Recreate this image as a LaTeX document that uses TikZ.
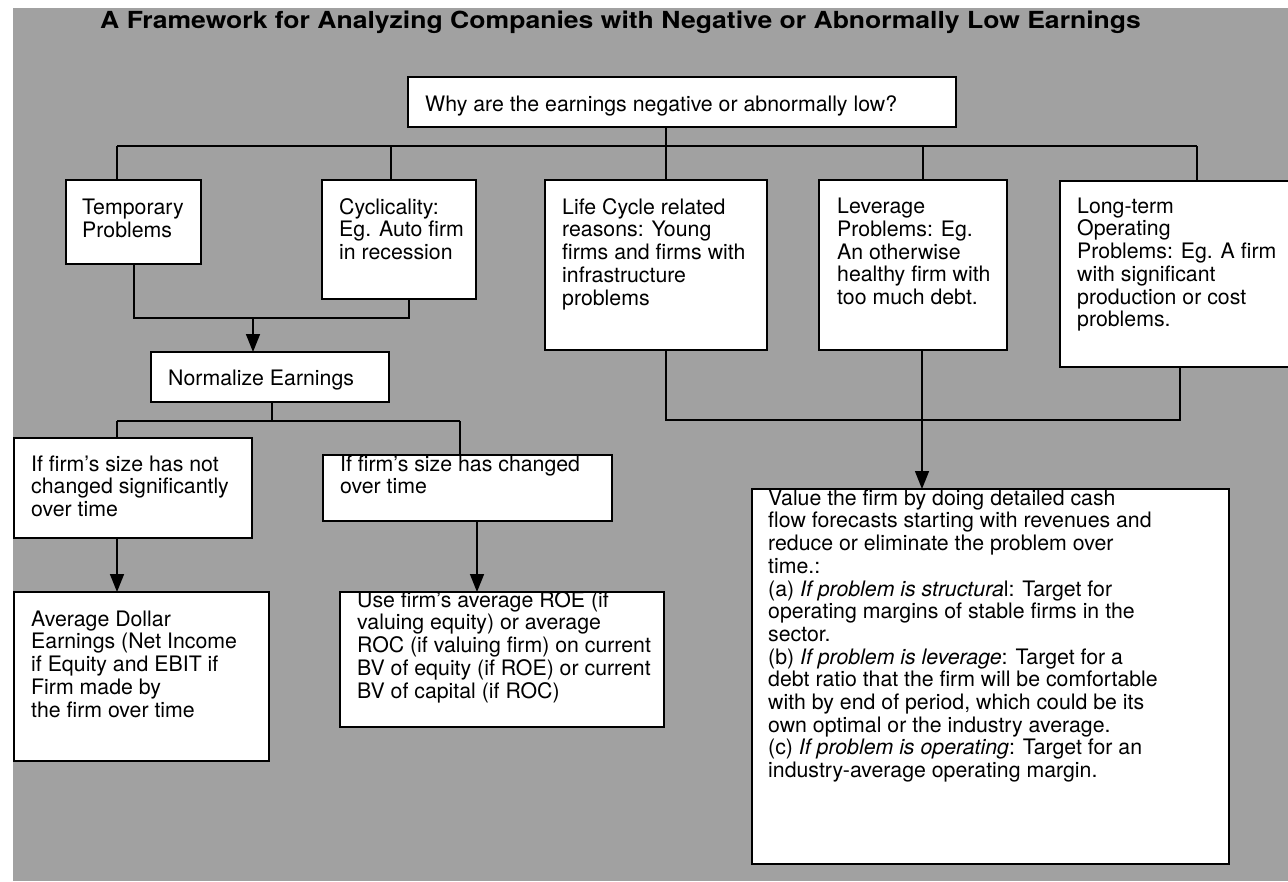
\documentclass[tikz,border=0pt]{standalone}
\usepackage{fontspec}
\usepackage{graphicx}
\setmainfont{TeX Gyre Heros}
\usetikzlibrary{arrows.meta}
\definecolor{bg}{RGB}{161,161,161}
\newcommand\ts{\rule{0pt}{17pt}}
\tikzset{
  box/.style={draw=black, fill=white, line width=1.5pt, anchor=north west, inner sep=0pt, outer sep=0pt},
  txt/.style={anchor=north west, inner sep=0pt, align=left, font=\fontsize{21.3}{22.7}\selectfont},
  conn/.style={line width=1.5pt, draw=black},
  arr/.style={conn, -{Triangle[width=14pt,length=18pt]}},
}
\begin{document}
\begin{tikzpicture}[x=1pt,y=-1pt]
\useasboundingbox (0,0) rectangle (1288,881);
\clip (0,0) rectangle (1288,881);
\fill[bg] (13,8) rectangle (1288,881);

\node[anchor=base west, inner sep=0pt, font=\fontsize{23.5}{26}\selectfont\bfseries] (title) at (100,28)
  {\scalebox{1.13}[1]{A Framework for Analyzing Companies with Negative or Abnormally Low Earnings}};

% boxes
\node[box, minimum width=548pt, minimum height=50pt] (root) at (408,77) {};
\node[box, minimum width=135pt, minimum height=84pt] (temp) at (66,180) {};
\node[box, minimum width=154pt, minimum height=119pt] (cyc) at (322,180) {};
\node[box, minimum width=222pt, minimum height=170pt] (life) at (545,180) {};
\node[box, minimum width=188pt, minimum height=170pt] (lev) at (819,180) {};
\node[box, minimum width=240pt, minimum height=186pt] (long) at (1060,181) {};
\node[box, minimum width=238pt, minimum height=50pt] (norm) at (151,352) {};
\node[box, minimum width=238pt, minimum height=100pt] (nch) at (14,438) {};
\node[box, minimum width=289pt, minimum height=66pt] (chg) at (323,455) {};
\node[box, minimum width=255pt, minimum height=169pt] (avg) at (14,592) {};
\node[box, minimum width=324pt, minimum height=135pt] (use) at (340,592) {};
\node[box, minimum width=477pt, minimum height=375pt] (val) at (752,489) {};

% texts
\node[txt] (rootT) at (425,94) {\ts Why are the earnings negative or abnormally low?};
\node[txt] (tempT) at (82,197.5) {\ts Temporary\\Problems};
\node[txt] (cycT) at (339,197) {\ts Cyclicality:\\Eg. Auto firm\\in recession};
\node[txt] (lifeT) at (562,197) {\ts Life Cycle related\\reasons: Young\\firms and firms with\\infrastructure\\problems};
\node[txt] (levT) at (837,196.5) {\ts Leverage\\Problems: Eg.\\An otherwise\\healthy firm with\\too much debt.};
\node[txt] (longT) at (1077,196) {\ts Long-term\\Operating\\Problems: Eg. A firm\\with significant\\production or cost\\problems.};
\node[txt] (normT) at (168,368) {\ts Normalize Earnings};
\node[txt] (nchT) at (31,454) {\ts If firm’s size has not\\changed significantly\\over time};
\node[txt] (chgT) at (340,454) {\ts If firm’s size has changed\\over time};
\node[txt] (avgT) at (31,609) {\ts Average Dollar\\Earnings (Net Income\\if Equity and EBIT if\\Firm made by\\the firm over time};
\node[txt] (useT) at (357,590) {\ts Use firm’s average ROE (if\\valuing equity) or average\\ROC (if valuing firm) on current\\BV of equity (if ROE) or current\\BV of capital (if ROC)};
\node[txt] (valT) at (768,488) {\ts Value the firm by doing detailed cash\\flow forecasts starting with revenues and\\reduce or eliminate the problem over\\time.:\\(a) \textit{If problem is structura}l: Target for\\operating margins of stable firms in the\\sector.\\(b) \textit{If problem is leverage}: Target for a\\debt ratio that the firm will be comfortable\\with by end of period, which could be its\\own optimal or the industry average.\\(c) \textit{If problem is operating}: Target for an\\industry-average operating margin.};

% bus coordinates
\coordinate (b1) at (117,146);
\coordinate (b2) at (391,146);
\coordinate (b3) at (666,146);
\coordinate (b4) at (923,146);
\coordinate (b5) at (1197,146);
\coordinate (j1) at (253,318);
\coordinate (tl) at (134,318);
\coordinate (tr) at (409,318);
\coordinate (n1) at (117,421);
\coordinate (n2) at (460,421);
\coordinate (nm) at (272,421);
\coordinate (r1) at (666,420);
\coordinate (r2) at (1180,420);
\coordinate (c1) at (117,538);
\coordinate (c2) at (477,521);
\coordinate (lv) at (922,350);

% top tree
\draw[conn] (root.south -| b3) -- (b3);
\draw[conn] (b1) -- (b5);
\draw[conn] (b1) -- (temp.north -| b1);
\draw[conn] (b2) -- (cyc.north -| b2);
\draw[conn] (b3) -- (life.north -| b3);
\draw[conn] (b4) -- (lev.north -| b4);
\draw[conn] (b5) -- (long.north -| b5);

% temporary + cyclicality to normalize
\draw[conn] (temp.south -| tl) -- (tl) -- (tr) -- (cyc.south -| tr);
\draw[arr] (j1) -- (norm.north -| j1);

% normalize split
\draw[conn] (norm.south -| nm) -- (nm);
\draw[conn] (n1) -- (n2);
\draw[conn] (n1) -- (nch.north -| n1);
\draw[conn] (n2) -- (chg.north -| n2);
\draw[arr] (nch.south -| c1) -- (avg.north -| c1);
\draw[arr] (chg.south -| c2) -- (use.north -| c2);

% right branch
\draw[conn] (life.south -| r1) -- (r1) -- (r2) -- (long.south -| r2);
\draw[arr] (lev.south -| lv) -- (val.north -| lv);
\end{tikzpicture}
\end{document}
